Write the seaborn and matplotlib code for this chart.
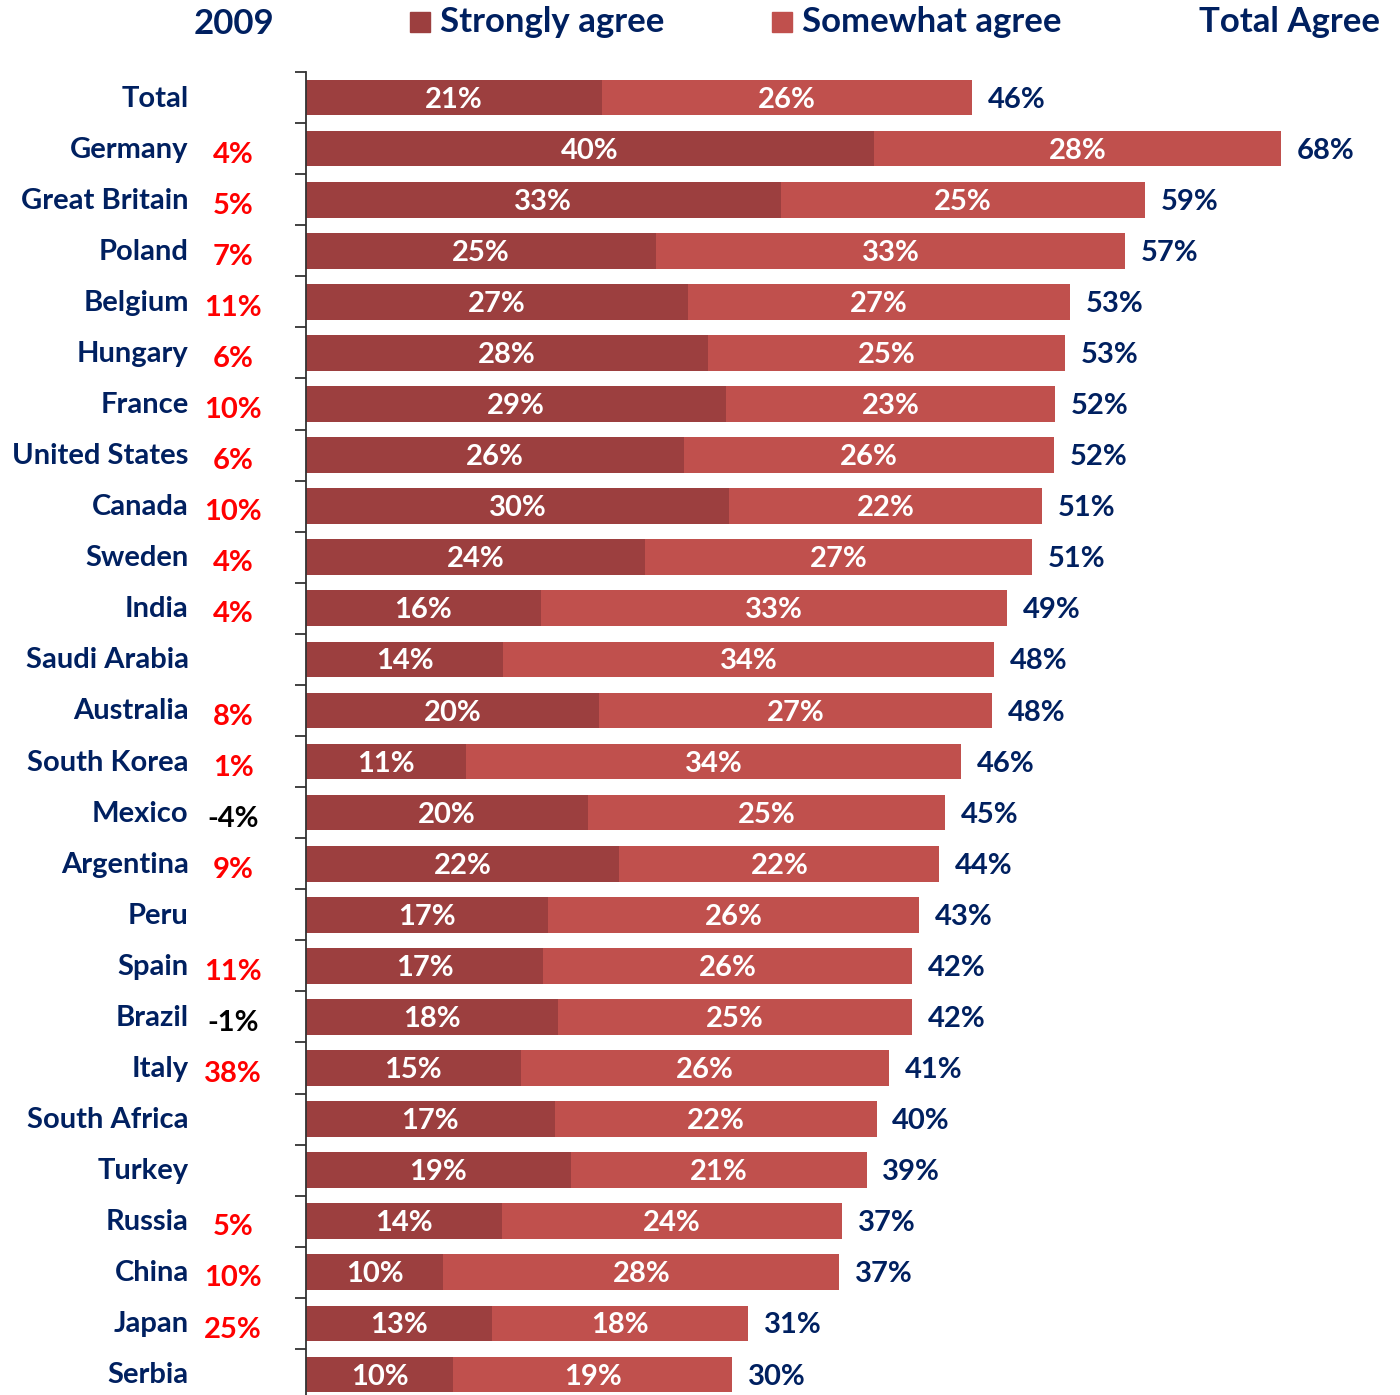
import numpy as np
import pandas as pd
import matplotlib
matplotlib.use('Agg')
import matplotlib.pyplot as plt
import seaborn as sns

# Data
countries = ['Total', 'Germany', 'Great Britain', 'Poland', 'Belgium', 'Hungary',
             'France', 'United States', 'Canada', 'Sweden', 'India', 'Saudi Arabia',
             'Australia', 'South Korea', 'Mexico', 'Argentina', 'Peru', 'Spain',
             'Brazil', 'Italy', 'South Africa', 'Turkey', 'Russia', 'China',
             'Japan', 'Serbia']
strongly = [20.7, 39.7, 33.2, 24.5, 26.7, 28.1, 29.4, 26.4, 29.6, 23.7, 16.4, 13.8,
            20.5, 11.2, 19.7, 21.9, 16.9, 16.6, 17.6, 15.0, 17.4, 18.5, 13.7, 9.6,
            13.0, 10.3]
somewhat = [25.9, 28.5, 25.5, 32.8, 26.7, 25.0, 23.0, 25.9, 21.9, 27.1, 32.6, 34.3,
            27.5, 34.6, 25.0, 22.4, 26.0, 25.8, 24.8, 25.8, 22.5, 20.7, 23.8, 27.7,
            17.9, 19.5]
strongly_lbl = ['21%', '40%', '33%', '25%', '27%', '28%', '29%', '26%', '30%', '24%',
                '16%', '14%', '20%', '11%', '20%', '22%', '17%', '17%', '18%', '15%',
                '17%', '19%', '14%', '10%', '13%', '10%']
somewhat_lbl = ['26%', '28%', '25%', '33%', '27%', '25%', '23%', '26%', '22%', '27%',
                '33%', '34%', '27%', '34%', '25%', '22%', '26%', '26%', '25%', '26%',
                '22%', '21%', '24%', '28%', '18%', '19%']
total_lbl = ['46%', '68%', '59%', '57%', '53%', '53%', '52%', '52%', '51%', '51%',
             '49%', '48%', '48%', '46%', '45%', '44%', '43%', '42%', '42%', '41%',
             '40%', '39%', '37%', '37%', '31%', '30%']
change_lbl = ['', '4%', '5%', '7%', '11%', '6%', '10%', '6%', '10%', '4%', '4%', '',
              '8%', '1%', '-4%', '9%', '', '11%', '-1%', '38%', '', '', '5%', '10%',
              '25%', '']

DARK = '#9C3F3F'
LIGHT = '#C0504D'
NAVY = '#002060'

sns.set_style('white')
plt.rcParams['font.family'] = ['Lato', 'DejaVu Sans']
plt.rcParams['font.weight'] = 'bold'

df = pd.DataFrame({'country': countries, 'strongly': strongly, 'somewhat': somewhat})
df['total'] = df['strongly'] + df['somewhat']

fig = plt.figure(figsize=(14, 13.95), dpi=100)
ax = fig.add_axes([306 / 1400, 1 - 1400 / 1395, 1 - 306 / 1400, (1400 - 72) / 1395])

sns.barplot(data=df, y='country', x='total', color=LIGHT, orient='h', width=0.7,
            ax=ax, saturation=1, edgecolor='none')
sns.barplot(data=df, y='country', x='strongly', color=DARK, orient='h', width=0.7,
            ax=ax, saturation=1, edgecolor='none')

ax.set_xlim(0, (1400 - 306) / 14.3)
ax.set_ylim(len(countries) - 0.5, -0.5)
ax.set_xlabel('')
ax.set_ylabel('')
ax.set_xticks([])
ax.set_yticks(np.arange(len(countries)))
ax.set_yticklabels([])
ax.tick_params(axis='y', which='major', length=0)
ax.set_yticks(np.arange(len(countries)) - 0.5, minor=True)
ax.tick_params(axis='y', which='minor', left=True, length=8, width=1.3,
               color='#333333', direction='out')
for s in ['top', 'right', 'bottom']:
    ax.spines[s].set_visible(False)
ax.spines['left'].set_color('#333333')
ax.spines['left'].set_linewidth(1.3)

fs = 21
for i in range(len(countries)):
    s = strongly[i]
    t = s + somewhat[i]
    y = i + 0.04
    ax.text(s / 2, y, strongly_lbl[i], color='white', ha='center', va='center',
            fontsize=fs, fontweight='bold')
    ax.text(s + somewhat[i] / 2, y, somewhat_lbl[i], color='white', ha='center',
            va='center', fontsize=fs, fontweight='bold')
    ax.text(t + 1.1, y, total_lbl[i], color=NAVY, ha='left', va='center',
            fontsize=fs, fontweight='bold')
    ax.text(-8.2, i + 0.02, countries[i], color=NAVY, ha='right', va='center',
            fontsize=fs, fontweight='bold')
    if change_lbl[i]:
        col = 'black' if change_lbl[i].startswith('-') else '#FF0000'
        ax.text(-5.1, i + 0.12, change_lbl[i], color=col, ha='center', va='center',
                fontsize=fs, fontweight='bold')

# Header row
hfs = 25
fig.text(234 / 1400, 1 - 24 / 1395, '2009', color=NAVY, ha='center', va='center',
         fontsize=hfs, fontweight='bold')
fig.patches.append(plt.Rectangle((410 / 1400, 1 - 32 / 1395), 20 / 1400, 20 / 1395,
                                 transform=fig.transFigure, color=DARK))
fig.text(440 / 1400, 1 - 22 / 1395, 'Strongly agree', color=NAVY, ha='left',
         va='center', fontsize=hfs, fontweight='bold')
fig.patches.append(plt.Rectangle((772 / 1400, 1 - 32 / 1395), 20 / 1400, 20 / 1395,
                                 transform=fig.transFigure, color=LIGHT))
fig.text(802 / 1400, 1 - 22 / 1395, 'Somewhat agree', color=NAVY, ha='left',
         va='center', fontsize=hfs, fontweight='bold')
fig.text(1380 / 1400, 1 - 22 / 1395, 'Total Agree', color=NAVY, ha='right',
         va='center', fontsize=hfs, fontweight='bold')

fig.savefig('out.png', dpi=100)
plt.close()
